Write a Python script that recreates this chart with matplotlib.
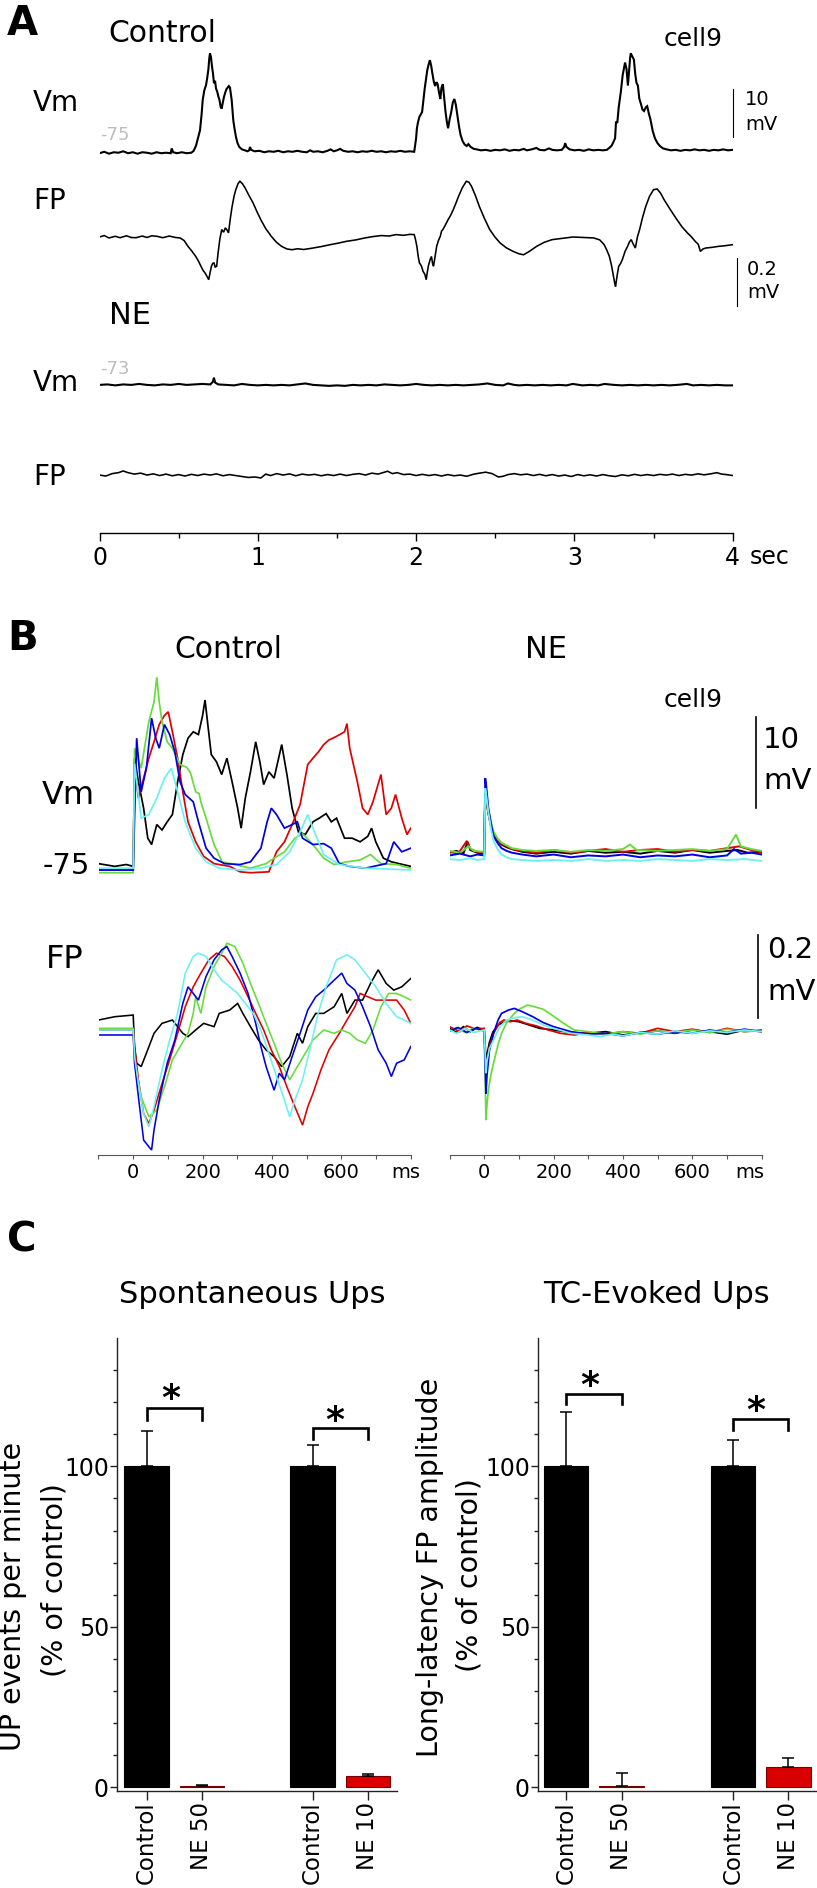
import numpy as np
import matplotlib
matplotlib.use("Agg")
import matplotlib.pyplot as plt
from matplotlib.ticker import FixedLocator, MultipleLocator

# ---- panel A: 4 s sweeps (t in s, Vm in mV, FP in mV) ----
a_ctrl_vm = [(0.00, -75.1), (0.03, -74.8), (0.06, -75.2), (0.09, -74.9), (0.12, -75.0), (0.15, -74.7),
             (0.18, -75.1), (0.21, -74.9), (0.24, -75.2), (0.27, -74.9), (0.30, -75.0), (0.33, -75.2),
             (0.36, -74.9), (0.39, -75.1), (0.42, -75.0), (0.45, -75.1), (0.456, -74.1), (0.465, -74.9),
             (0.49, -75.1), (0.52, -74.9), (0.55, -75.1), (0.58, -75.0), (0.595, -74.6), (0.61, -73.5),
             (0.622, -72.0), (0.635, -70.3), (0.645, -67.0), (0.652, -64.0), (0.662, -62.0), (0.673, -60.9),
             (0.680, -59.5), (0.688, -57.6), (0.693, -55.5), (0.698, -54.3), (0.704, -55.0), (0.711, -57.1),
             (0.717, -58.5), (0.723, -60.5), (0.730, -60.0), (0.736, -61.6), (0.744, -62.3), (0.751, -63.3),
             (0.758, -64.0), (0.765, -65.4), (0.772, -65.8), (0.778, -64.7), (0.786, -63.4), (0.793, -62.6),
             (0.801, -61.8), (0.810, -61.4), (0.817, -61.1), (0.824, -61.4), (0.830, -62.8), (0.835, -64.0),
             (0.840, -66.0), (0.845, -68.2), (0.853, -70.0), (0.862, -71.7), (0.872, -73.0), (0.883, -73.8),
             (0.900, -74.3), (0.919, -74.5), (0.935, -74.7), (0.945, -74.5), (0.951, -73.8), (0.958, -74.4),
             (0.98, -74.7), (1.01, -74.6), (1.04, -74.9), (1.07, -74.7), (1.10, -74.8), (1.13, -74.6),
             (1.16, -74.9), (1.19, -74.7), (1.22, -74.8), (1.25, -74.6), (1.28, -74.8), (1.31, -74.9),
             (1.33, -74.5), (1.35, -74.8), (1.38, -74.7), (1.41, -74.9), (1.44, -74.6), (1.46, -74.3),
             (1.48, -74.7), (1.50, -74.5), (1.52, -74.2), (1.54, -74.6), (1.57, -74.8), (1.60, -74.7),
             (1.63, -74.9), (1.66, -74.7), (1.69, -74.8), (1.72, -74.6), (1.75, -74.8), (1.78, -74.7),
             (1.81, -74.9), (1.84, -74.7), (1.87, -74.8), (1.90, -74.6), (1.93, -74.8), (1.96, -74.7),
             (1.988, -74.8), (2.000, -72.0), (2.005, -69.9), (2.013, -68.5), (2.021, -67.5), (2.030, -67.0),
             (2.038, -66.5), (2.046, -64.0), (2.054, -61.7), (2.063, -59.5), (2.071, -57.7), (2.080, -56.5),
             (2.087, -55.7), (2.095, -56.8), (2.104, -58.7), (2.112, -60.2), (2.120, -61.1), (2.128, -60.3),
             (2.136, -60.7), (2.145, -62.5), (2.153, -63.8), (2.160, -61.5), (2.169, -60.7), (2.177, -63.5),
             (2.186, -66.5), (2.194, -68.5), (2.202, -69.9), (2.212, -68.0), (2.222, -66.5), (2.232, -64.5),
             (2.242, -63.8), (2.251, -65.0), (2.261, -67.2), (2.271, -69.5), (2.281, -71.3), (2.294, -72.6),
             (2.307, -73.3), (2.320, -73.6), (2.330, -73.2), (2.345, -73.8), (2.365, -74.2), (2.383, -74.3),
             (2.41, -74.5), (2.44, -74.4), (2.47, -74.6), (2.50, -74.4), (2.53, -74.5), (2.56, -74.3),
             (2.59, -74.6), (2.62, -74.4), (2.65, -74.5), (2.68, -74.2), (2.70, -74.5), (2.73, -74.3),
             (2.76, -74.0), (2.78, -74.4), (2.81, -74.5), (2.84, -74.1), (2.86, -74.4), (2.89, -74.5),
             (2.92, -74.4), (2.935, -73.8), (2.942, -73.0), (2.950, -73.8), (2.97, -74.3), (3.00, -74.5),
             (3.03, -74.4), (3.06, -74.6), (3.09, -74.3), (3.12, -74.5), (3.15, -74.4), (3.18, -74.5),
             (3.205, -74.4), (3.220, -74.0), (3.236, -73.5), (3.246, -72.8), (3.257, -72.0), (3.263, -68.5),
             (3.271, -68.8), (3.280, -65.5), (3.293, -62.4), (3.305, -58.8), (3.320, -56.2), (3.329, -57.5),
             (3.338, -61.0), (3.345, -58.0), (3.352, -55.2), (3.356, -54.3), (3.364, -54.8), (3.376, -55.6),
             (3.384, -58.5), (3.392, -60.4), (3.401, -61.0), (3.410, -63.7), (3.420, -64.8), (3.430, -66.0),
             (3.440, -66.3), (3.452, -65.5), (3.460, -65.3), (3.470, -66.8), (3.480, -68.0), (3.495, -70.5),
             (3.509, -72.0), (3.525, -73.0), (3.540, -73.6), (3.560, -74.1), (3.583, -74.3), (3.61, -74.5),
             (3.64, -74.4), (3.67, -74.6), (3.70, -74.4), (3.73, -74.5), (3.76, -74.3), (3.79, -74.5),
             (3.82, -74.4), (3.85, -74.6), (3.88, -74.4), (3.91, -74.5), (3.94, -74.3), (3.97, -74.5),
             (4.00, -74.4)]

a_ctrl_fp = [(0.000, 0.000), (0.030, 0.006), (0.060, -0.004), (0.099, 0.003), (0.130, -0.003), (0.170, 0.005),
             (0.200, -0.002), (0.230, -0.003), (0.270, 0.004), (0.300, -0.002), (0.330, 0.005), (0.362, 0.003),
             (0.400, -0.003), (0.440, 0.004), (0.480, -0.002), (0.509, -0.004), (0.535, -0.015), (0.559, -0.039),
             (0.585, -0.060), (0.608, -0.081), (0.625, -0.100), (0.641, -0.122), (0.655, -0.140), (0.667, -0.150),
             (0.680, -0.165), (0.690, -0.178), (0.698, -0.150), (0.707, -0.122), (0.715, -0.110), (0.723, -0.108),
             (0.731, -0.125), (0.740, -0.122), (0.749, -0.067), (0.760, -0.010), (0.772, 0.031), (0.784, 0.020),
             (0.795, 0.038), (0.805, 0.030), (0.815, 0.017), (0.827, 0.080), (0.838, 0.128), (0.850, 0.170),
             (0.861, 0.197), (0.875, 0.222), (0.887, 0.232), (0.903, 0.222), (0.920, 0.204), (0.945, 0.172),
             (0.970, 0.142), (0.995, 0.105), (1.019, 0.072), (1.050, 0.035), (1.085, 0.003), (1.115, -0.020),
             (1.150, -0.039), (1.185, -0.050), (1.216, -0.053), (1.250, -0.049), (1.290, -0.052), (1.348, -0.046),
             (1.400, -0.040), (1.450, -0.033), (1.512, -0.025), (1.560, -0.018), (1.620, -0.012), (1.676, -0.004),
             (1.730, 0.002), (1.780, 0.006), (1.830, 0.004), (1.873, 0.010), (1.920, 0.007), (1.960, 0.011),
             (1.988, 0.010), (1.996, -0.010), (2.005, -0.039), (2.013, -0.080), (2.021, -0.108), (2.033, -0.120),
             (2.044, -0.143), (2.055, -0.155), (2.064, -0.178), (2.070, -0.150), (2.077, -0.122), (2.088, -0.095),
             (2.097, -0.081), (2.104, -0.110), (2.110, -0.122), (2.120, -0.080), (2.130, -0.039), (2.141, -0.015),
             (2.153, 0.003), (2.161, 0.025), (2.169, 0.031), (2.185, 0.050), (2.202, 0.072), (2.218, 0.090),
             (2.235, 0.114), (2.251, 0.140), (2.268, 0.169), (2.292, 0.205), (2.317, 0.232), (2.334, 0.228),
             (2.350, 0.211), (2.375, 0.172), (2.399, 0.128), (2.430, 0.080), (2.465, 0.031), (2.498, 0.000),
             (2.531, -0.025), (2.570, -0.045), (2.613, -0.060), (2.650, -0.070), (2.679, -0.074), (2.720, -0.058),
             (2.761, -0.039), (2.810, -0.022), (2.859, -0.011), (2.920, -0.006), (2.991, 0.000), (3.050, -0.002),
             (3.122, -0.004), (3.160, -0.012), (3.188, -0.032), (3.205, -0.055), (3.221, -0.081), (3.235, -0.120),
             (3.247, -0.164), (3.254, -0.190), (3.260, -0.206), (3.270, -0.160), (3.280, -0.122), (3.292, -0.110),
             (3.303, -0.094), (3.320, -0.060), (3.336, -0.039), (3.348, -0.020), (3.359, -0.011), (3.372, -0.030),
             (3.385, -0.046), (3.398, 0.000), (3.412, 0.031), (3.430, 0.080), (3.451, 0.128), (3.475, 0.170),
             (3.500, 0.197), (3.523, 0.200), (3.545, 0.182), (3.566, 0.156), (3.605, 0.115), (3.648, 0.072),
             (3.680, 0.042), (3.714, 0.017), (3.740, 0.000), (3.763, -0.018), (3.782, -0.030), (3.796, -0.060),
             (3.812, -0.050), (3.829, -0.046), (3.870, -0.043), (3.911, -0.039), (3.955, -0.036), (4.000, -0.032)]

a_ne_vm = [(0.00, -73.0), (0.05, -72.9), (0.10, -73.1), (0.15, -72.9), (0.20, -73.0), (0.25, -72.8), (0.30, -73.0),
           (0.35, -73.1), (0.40, -72.9), (0.45, -73.0), (0.50, -72.8), (0.55, -73.0), (0.60, -72.9), (0.65, -72.8),
           (0.70, -72.9), (0.715, -72.4), (0.723, -71.5), (0.73, -72.5), (0.75, -72.9), (0.80, -73.0), (0.85, -73.1),
           (0.90, -72.8), (0.95, -73.0), (1.00, -73.1), (1.05, -73.0), (1.10, -73.1), (1.15, -73.0), (1.20, -73.1),
           (1.25, -72.9), (1.30, -72.7), (1.35, -73.0), (1.40, -73.1), (1.45, -73.2), (1.50, -73.1), (1.55, -73.2),
           (1.60, -73.0), (1.65, -73.1), (1.70, -73.0), (1.75, -73.1), (1.80, -72.9), (1.85, -73.0), (1.90, -73.1),
           (1.95, -73.0), (2.00, -72.8), (2.05, -73.0), (2.10, -73.1), (2.15, -73.0), (2.20, -73.1), (2.25, -73.0),
           (2.30, -73.1), (2.35, -73.0), (2.40, -72.9), (2.45, -72.7), (2.50, -73.0), (2.55, -73.1), (2.58, -72.7),
           (2.62, -73.0), (2.65, -73.1), (2.70, -73.0), (2.75, -73.1), (2.80, -73.0), (2.85, -73.1), (2.90, -73.0),
           (2.95, -73.1), (2.99, -72.8), (3.05, -73.1), (3.10, -73.0), (3.15, -73.1), (3.19, -72.8), (3.25, -73.0),
           (3.30, -73.1), (3.35, -73.0), (3.40, -73.1), (3.45, -73.0), (3.50, -73.1), (3.55, -73.0), (3.60, -73.1),
           (3.65, -73.0), (3.71, -72.8), (3.75, -73.1), (3.80, -73.0), (3.85, -73.1), (3.90, -73.0), (3.95, -73.1),
           (4.00, -73.1)]

a_ne_fp = [(0.00, 0.000), (0.04, -0.004), (0.08, 0.006), (0.12, 0.010), (0.15, 0.017), (0.18, 0.010), (0.22, 0.004),
           (0.26, 0.008), (0.30, 0.000), (0.34, 0.005), (0.38, -0.002), (0.42, 0.004), (0.46, -0.003), (0.50, 0.002),
           (0.54, -0.004), (0.58, 0.003), (0.62, -0.002), (0.66, 0.004), (0.70, 0.000), (0.74, 0.005), (0.78, -0.003),
           (0.82, 0.002), (0.86, -0.002), (0.90, -0.006), (0.94, -0.010), (0.98, -0.008), (1.02, -0.012), (1.05, 0.004),
           (1.08, -0.002), (1.12, 0.006), (1.16, 0.000), (1.20, 0.005), (1.24, -0.003), (1.28, 0.004), (1.32, 0.000),
           (1.36, 0.003), (1.40, -0.003), (1.44, 0.002), (1.48, -0.002), (1.52, 0.004), (1.56, -0.002), (1.60, 0.003),
           (1.64, 0.006), (1.68, 0.000), (1.72, 0.008), (1.76, 0.004), (1.80, 0.012), (1.82, 0.016), (1.85, 0.006),
           (1.88, 0.010), (1.92, 0.002), (1.96, 0.004), (2.00, -0.002), (2.04, 0.003), (2.08, -0.002), (2.12, 0.002),
           (2.16, -0.004), (2.20, 0.002), (2.24, -0.003), (2.28, 0.000), (2.32, -0.005), (2.36, 0.003), (2.40, 0.008),
           (2.44, 0.012), (2.48, 0.006), (2.52, -0.008), (2.55, -0.005), (2.58, 0.002), (2.62, 0.006), (2.66, 0.001),
           (2.70, 0.004), (2.74, -0.002), (2.78, 0.003), (2.82, -0.003), (2.86, 0.002), (2.90, -0.004), (2.94, 0.000),
           (2.98, -0.006), (3.02, 0.002), (3.06, -0.003), (3.10, 0.001), (3.14, -0.004), (3.18, 0.002), (3.22, -0.003),
           (3.26, -0.006), (3.30, 0.001), (3.34, -0.003), (3.38, 0.003), (3.42, -0.002), (3.46, 0.002), (3.50, -0.002),
           (3.54, 0.003), (3.58, 0.000), (3.62, 0.004), (3.66, -0.002), (3.70, 0.003), (3.74, 0.000), (3.78, 0.005),
           (3.82, 0.001), (3.86, 0.005), (3.90, 0.010), (3.93, 0.004), (3.96, 0.002), (4.00, -0.002)]

# ---- panel B: overlaid sweeps (t in ms) ----
trace_colors = ['#000000', '#e00000', '#66dc3c', '#0000e0', '#6cf0f0']

b_ctrl_vm = [
    [(-100, -74.5), (-53, -74.8), (-20, -74.6), (0, -74.8), (4, -62.9), (15, -65.5), (30, -68.4), (42, -71.7),
     (53, -72.4), (68, -70.2), (83, -70.8), (98, -69.9), (113, -69.1), (128, -65.5), (143, -62.5), (158, -60.7),
     (173, -60.0), (188, -60.3), (200, -58.2), (207, -56.5), (215, -59.2), (225, -62.5), (240, -63.3), (255, -64.7),
     (270, -62.9), (285, -65.5), (301, -68.4), (311, -70.6), (323, -67.3), (338, -64.4), (353, -61.1), (365, -63.3),
     (376, -65.8), (391, -64.4), (406, -65.1), (428, -61.4), (443, -64.7), (458, -68.4), (476, -71.0), (496, -71.3),
     (518, -69.9), (536, -69.5), (556, -69.0), (571, -69.9), (586, -69.5), (609, -71.7), (631, -71.7), (654, -72.1),
     (676, -71.5), (687, -70.6), (699, -72.1), (721, -73.9), (744, -74.3), (766, -74.5), (800, -74.8)],
    [(-100, -75.2), (0, -75.2), (4, -63.3), (15, -67.3), (30, -65.1), (45, -62.9), (60, -61.1), (75, -59.2),
     (90, -58.2), (101, -57.8), (113, -60.0), (128, -62.9), (143, -66.6), (158, -69.9), (180, -72.1), (203, -73.7),
     (233, -74.5), (278, -74.8), (308, -75.4), (338, -75.5), (391, -75.4), (413, -73.2), (436, -72.1), (458, -70.2),
     (481, -68.0), (503, -63.6), (518, -62.9), (534, -62.2), (549, -61.4), (564, -60.9), (586, -60.5), (609, -60.0),
     (616, -59.1), (624, -61.8), (646, -65.5), (661, -68.4), (676, -69.1), (691, -67.7), (714, -64.7), (729, -69.1),
     (744, -68.4), (756, -66.9), (774, -69.5), (789, -71.3), (800, -70.6)],
    [(-100, -75.5), (0, -75.5), (4, -61.8), (23, -64.0), (45, -58.9), (60, -56.7), (68, -54.0), (75, -56.7),
     (83, -58.9), (98, -61.1), (113, -61.8), (135, -63.6), (154, -63.9), (165, -64.5), (180, -66.6), (190, -66.8),
     (195, -67.7), (210, -69.5), (233, -72.4), (256, -74.3), (293, -74.6), (338, -75.0), (383, -74.5), (406, -73.9),
     (436, -73.2), (466, -71.7), (488, -71.2), (518, -72.4), (549, -73.9), (579, -74.6), (616, -74.3), (654, -74.1),
     (684, -73.5), (714, -74.5), (759, -74.6), (800, -75.0)],
    [(-100, -75.2), (0, -75.2), (10, -60.7), (23, -66.6), (38, -64.0), (53, -58.5), (65, -60.7), (75, -61.8),
     (90, -59.2), (105, -60.3), (120, -62.2), (135, -65.5), (150, -66.9), (173, -67.7), (188, -69.9), (210, -72.8),
     (233, -73.9), (263, -74.5), (308, -74.6), (338, -74.3), (368, -72.8), (386, -69.9), (398, -68.4), (413, -69.1),
     (436, -70.6), (458, -70.2), (473, -69.9), (488, -71.7), (518, -72.4), (549, -72.3), (571, -72.8), (594, -74.5),
     (624, -74.8), (669, -75.0), (729, -74.5), (751, -72.1), (774, -73.2), (800, -72.8)],
    [(-100, -75.0), (0, -75.0), (4, -63.5), (23, -69.5), (45, -69.1), (68, -67.3), (90, -65.1), (110, -64.0),
     (128, -66.6), (150, -69.9), (180, -72.8), (210, -74.3), (248, -75.0), (308, -75.2), (368, -75.0), (413, -74.6),
     (451, -73.2), (481, -71.0), (503, -69.1), (518, -70.6), (549, -73.5), (594, -74.6), (669, -75.0), (800, -75.2)],
]

b_ne_vm = [
    [(-100, -73.3), (-80, -73.1), (-60, -73.4), (-48, -72.1), (-40, -73.0), (-20, -73.3), (0, -73.4), (3, -66.8),
     (6, -67.5), (12, -69.0), (20, -70.5), (27, -71.3), (40, -72.0), (50, -72.4), (65, -72.7), (80, -72.9),
     (110, -73.2), (150, -73.4), (200, -73.2), (250, -73.4), (300, -73.1), (350, -73.3), (400, -73.2), (450, -73.4),
     (500, -73.1), (550, -73.3), (600, -73.0), (650, -73.3), (700, -73.1), (730, -73.0), (760, -73.3), (800, -73.2)],
    [(-100, -73.2), (-75, -73.4), (-50, -72.0), (-40, -72.9), (-20, -73.2), (0, -73.3), (3, -66.6), (6, -67.3),
     (12, -68.9), (20, -70.4), (27, -71.2), (40, -72.0), (50, -72.3), (65, -72.6), (80, -72.9), (110, -73.1),
     (150, -73.3), (200, -73.0), (250, -73.3), (300, -73.1), (350, -72.9), (400, -73.2), (450, -73.0), (500, -72.9),
     (550, -73.2), (600, -73.0), (650, -73.1), (700, -72.8), (735, -72.6), (770, -73.0), (800, -73.3)],
    [(-100, -73.1), (-70, -73.3), (-45, -72.6), (-30, -73.1), (0, -73.2), (3, -66.6), (6, -67.2), (12, -68.6),
     (20, -70.0), (27, -71.0), (40, -71.8), (50, -72.2), (65, -72.5), (80, -72.8), (110, -73.0), (150, -73.1),
     (200, -73.0), (250, -73.2), (300, -73.0), (350, -73.1), (400, -72.9), (420, -72.4), (440, -73.0), (500, -73.1),
     (550, -73.0), (600, -72.9), (650, -73.1), (700, -72.9), (726, -71.3), (740, -72.6), (770, -72.9), (800, -73.1)],
    [(-100, -73.6), (-70, -73.4), (-40, -73.7), (-20, -73.5), (0, -73.6), (3, -65.1), (6, -66.0), (12, -68.4),
     (20, -70.2), (27, -71.5), (40, -72.3), (50, -72.8), (65, -73.1), (80, -73.3), (110, -73.5), (150, -73.7),
     (200, -73.5), (250, -73.8), (300, -73.6), (350, -73.7), (400, -73.5), (450, -73.8), (500, -73.6), (550, -73.7),
     (600, -73.5), (650, -73.8), (700, -73.6), (720, -72.9), (740, -73.4), (770, -73.3), (800, -73.5)],
    [(-100, -74.0), (-70, -74.1), (-40, -73.9), (-20, -74.1), (0, -74.0), (3, -66.2), (6, -67.0), (12, -68.8),
     (20, -70.8), (27, -72.0), (40, -73.0), (50, -73.5), (65, -73.8), (80, -74.0), (110, -74.1), (150, -74.2),
     (200, -74.1), (250, -74.2), (300, -74.0), (350, -74.2), (400, -74.1), (450, -74.2), (500, -74.0), (550, -74.1),
     (600, -74.2), (650, -74.0), (700, -74.1), (750, -74.0), (800, -74.2)],
]

b_ctrl_fp = [
    [(-100, 0.024), (-53, 0.032), (0, 0.036), (4, -0.040), (10, -0.080), (23, -0.088), (38, -0.056), (60, -0.008),
     (83, 0.016), (113, 0.024), (143, -0.008), (158, -0.016), (180, 0.000), (203, 0.016), (233, 0.008), (248, 0.040),
     (278, 0.048), (301, 0.064), (316, 0.040), (338, 0.008), (361, -0.024), (383, -0.048), (406, -0.064),
     (428, -0.088), (451, -0.064), (473, -0.008), (488, -0.032), (503, 0.008), (526, 0.040), (549, 0.040),
     (579, 0.056), (601, 0.088), (616, 0.040), (639, 0.072), (661, 0.072), (684, 0.112), (706, 0.145), (729, 0.112),
     (751, 0.096), (774, 0.104), (800, 0.124)],
    [(-100, 0.000), (0, 0.000), (4, -0.040), (15, -0.120), (30, -0.201), (45, -0.225), (60, -0.193), (83, -0.129),
     (105, -0.072), (128, -0.008), (150, 0.056), (173, 0.104), (195, 0.137), (218, 0.169), (240, 0.185), (263, 0.177),
     (285, 0.153), (308, 0.120), (331, 0.080), (353, 0.040), (376, 0.000), (398, -0.048), (421, -0.088),
     (443, -0.137), (466, -0.185), (488, -0.229), (503, -0.185), (518, -0.153), (541, -0.096), (564, -0.048),
     (594, -0.008), (616, 0.024), (639, 0.056), (654, 0.088), (676, 0.080), (699, 0.072), (729, 0.072), (759, 0.072),
     (781, 0.048), (800, 0.016)],
    [(-100, 0.004), (0, 0.004), (4, -0.080), (23, -0.161), (45, -0.209), (68, -0.193), (90, -0.137), (113, -0.072),
     (135, -0.040), (158, -0.008), (173, 0.040), (180, 0.080), (195, 0.040), (210, 0.104), (233, 0.153), (255, 0.185),
     (270, 0.209), (293, 0.201), (316, 0.161), (338, 0.112), (361, 0.064), (383, 0.016), (406, -0.032),
     (428, -0.080), (451, -0.120), (473, -0.088), (496, -0.056), (518, -0.024), (549, 0.000), (579, -0.008),
     (601, 0.000), (624, -0.008), (646, -0.024), (669, -0.032), (691, 0.000), (714, 0.056), (736, 0.088), (759, 0.088),
     (781, 0.080), (800, 0.072)],
    [(-100, -0.012), (0, -0.012), (4, -0.080), (15, -0.161), (30, -0.265), (45, -0.281), (53, -0.289), (60, -0.241),
     (75, -0.169), (98, -0.080), (120, -0.024), (143, 0.064), (158, 0.104), (173, 0.088), (188, 0.072), (210, 0.129),
     (233, 0.169), (255, 0.193), (270, 0.201), (285, 0.177), (308, 0.137), (331, 0.088), (353, 0.016), (368, -0.040),
     (383, -0.088), (406, -0.145), (421, -0.104), (436, -0.120), (458, -0.064), (481, -0.008), (503, 0.048),
     (526, 0.080), (549, 0.096), (579, 0.120), (601, 0.137), (616, 0.112), (639, 0.096), (661, 0.056), (684, 0.008),
     (706, -0.048), (729, -0.080), (744, -0.112), (759, -0.080), (781, -0.072), (800, -0.040)],
    [(-100, 0.000), (0, 0.000), (4, -0.064), (15, -0.129), (30, -0.201), (45, -0.233), (60, -0.185), (83, -0.096),
     (105, -0.024), (128, 0.040), (150, 0.137), (173, 0.177), (188, 0.185), (210, 0.177), (233, 0.145), (255, 0.120),
     (278, 0.104), (301, 0.088), (323, 0.064), (346, 0.040), (368, 0.000), (391, -0.056), (413, -0.112),
     (436, -0.169), (451, -0.209), (466, -0.169), (488, -0.120), (511, -0.040), (533, 0.040), (556, 0.104),
     (586, 0.169), (616, 0.181), (639, 0.169), (669, 0.137), (699, 0.104), (729, 0.064), (759, 0.032), (781, 0.024),
     (800, 0.016)],
]

b_ne_fp = [
    [(-100, 0.004), (-80, -0.006), (-60, 0.008), (-40, -0.004), (-20, 0.006), (0, 0.000), (3, -0.040), (5, -0.080),
     (8, -0.060), (15, -0.030), (25, -0.005), (40, 0.012), (60, 0.020), (80, 0.022), (100, 0.020), (130, 0.012),
     (160, 0.004), (200, 0.000), (250, -0.006), (300, -0.008), (350, -0.004), (400, -0.012), (450, -0.006),
     (500, -0.002), (550, -0.008), (600, 0.000), (650, -0.004), (700, -0.010), (750, 0.000), (800, -0.004)],
    [(-100, 0.008), (-70, -0.004), (-50, 0.010), (-25, 0.002), (0, 0.004), (3, -0.060), (5, -0.112), (8, -0.080),
     (15, -0.040), (27, -0.008), (45, 0.018), (57, 0.024), (75, 0.020), (95, 0.024), (120, 0.016), (150, 0.010),
     (185, 0.000), (220, -0.008), (260, -0.012), (300, -0.006), (350, -0.010), (400, -0.004), (450, -0.008),
     (500, 0.004), (550, -0.004), (600, 0.002), (650, -0.006), (700, 0.004), (750, -0.004), (800, 0.000)],
    [(-100, -0.004), (-80, 0.006), (-55, -0.006), (-30, 0.004), (0, -0.002), (3, -0.120), (5, -0.217), (8, -0.180),
     (12, -0.145), (20, -0.105), (27, -0.080), (40, -0.035), (50, -0.008), (65, 0.018), (87, 0.040), (105, 0.052),
     (125, 0.060), (145, 0.056), (170, 0.050), (195, 0.036), (215, 0.024), (240, 0.010), (260, 0.000),
     (300, -0.004), (350, -0.010), (400, -0.004), (450, -0.010), (500, -0.002), (550, -0.006), (600, 0.000),
     (650, -0.006), (700, 0.002), (750, -0.004), (800, -0.002)],
    [(-100, -0.002), (-75, 0.006), (-50, -0.006), (-25, 0.004), (0, -0.002), (3, -0.090), (5, -0.153), (8, -0.110),
     (15, -0.050), (27, -0.008), (40, 0.024), (50, 0.040), (70, 0.048), (87, 0.052), (110, 0.044), (140, 0.032),
     (170, 0.018), (200, 0.008), (250, -0.004), (300, -0.010), (350, -0.008), (400, -0.014), (450, -0.006),
     (500, -0.010), (550, -0.004), (600, -0.008), (650, 0.000), (700, -0.006), (750, 0.002), (800, -0.004)],
    [(-100, 0.000), (-80, -0.008), (-55, 0.004), (-30, -0.006), (0, 0.000), (3, -0.060), (5, -0.104), (8, -0.075),
     (15, -0.045), (27, -0.024), (45, 0.008), (65, 0.024), (90, 0.030), (110, 0.032), (140, 0.024), (170, 0.012),
     (200, 0.004), (250, -0.008), (300, -0.012), (335, -0.016), (370, -0.010), (400, -0.014), (450, -0.006),
     (500, -0.010), (550, -0.002), (600, -0.008), (650, -0.002), (700, -0.006), (750, 0.000), (800, -0.004)],
]

# ---- panel C: bar charts (% of control) ----
c_groups = ['Control', 'NE 50', 'Control', 'NE 10']
c_xpos = [1, 2, 4, 5]
c_colors = ['black', '#d80000', 'black', '#d80000']
spont_mean = [100, 0.5, 100, 3.5]
spont_err = [11.1, 0.3, 6.6, 0.5]
evoked_mean = [100, 0.4, 100, 6.2]
evoked_err = [17.0, 3.9, 8.3, 2.8]
# bracket: (x_left, x_right, top, left end, right end); star: (x, y)
spont_brackets = [(1, 2, 118.1, 114.6, 114.6), (4, 5, 112.0, 108.5, 108.5)]
spont_stars = [(1.44, 124.3), (4.40, 117.5)]
evoked_brackets = [(1, 2, 122.6, 119.3, 119.3), (4, 5, 114.8, 111.3, 111.3)]
evoked_stars = [(1.43, 128.3), (4.41, 120.7)]

W, H = 817, 1888
plt.rcParams['font.family'] = ['DejaVu Sans']
fig = plt.figure(figsize=(W / 100, H / 100), dpi=100)


def box(x0, y0, x1, y1):
    # pixel box (top-left origin) -> figure fraction
    return [x0 / W, 1 - y1 / H, (x1 - x0) / W, (y1 - y0) / H]


def label(x, y, s, size, **kw):
    kw.setdefault('ha', 'left')
    kw.setdefault('va', 'center')
    fig.text(x / W, 1 - y / H, s, fontsize=size, **kw)


def bare(ax):
    for sp in ax.spines.values():
        sp.set_visible(False)
    ax.set_xticks([])
    ax.set_yticks([])
    ax.patch.set_visible(False)


def trace(ax, pts, color='k', lw=1.0):
    t, v = np.array(pts).T
    ax.plot(t, v, color=color, lw=lw, solid_joinstyle='miter')


# ================= A =================
axA1 = fig.add_axes(box(99.5, 40, 732.7, 170))
axA2 = fig.add_axes(box(99.5, 170, 732.7, 310))
axA3 = fig.add_axes(box(99.5, 335, 732.7, 430))
axA4 = fig.add_axes(box(99.5, 440, 732.7, 532.7))
for ax in (axA1, axA2, axA3, axA4):
    bare(ax)
    ax.set_xlim(0, 4)
axA1.set_ylim(-78.6, -51.5)
axA2.set_ylim(-0.304, 0.279)
axA3.set_ylim(-82.4, -62.6)
axA4.set_ylim(-0.240, 0.146)

trace(axA1, a_ctrl_vm, lw=1.5)
trace(axA2, a_ctrl_fp, lw=1.15)
trace(axA3, a_ne_vm, lw=1.5)
trace(axA4, a_ne_fp, lw=1.15)

# scale bars
axA1.plot([4.0, 4.0], [-71.7, -61.7], color='k', lw=0.8, clip_on=False)
axA2.plot([4.027, 4.027], [-0.2875, -0.0875], color='k', lw=0.8, clip_on=False)

# time axis
axA4.spines['bottom'].set_visible(True)
axA4.spines['bottom'].set_linewidth(1.0)
axA4.set_xticks([0, 1, 2, 3, 4])
axA4.set_xticklabels(['0', '1', '2', '3', '4'])
axA4.xaxis.set_minor_locator(MultipleLocator(0.5))
axA4.tick_params(axis='x', which='major', direction='out', length=5.5, width=1.0, labelsize=17, pad=4)
axA4.tick_params(axis='x', which='minor', direction='out', length=3.5, width=1.0)

label(7, 24, 'A', 29, weight='bold')
label(162, 34, 'Control', 21.5, ha='center')
label(693, 39, 'cell9', 18, ha='center')
label(56, 103, 'Vm', 20, ha='center')
label(100, 135, '-75', 13, color='#bdbdbd')
label(50, 201, 'FP', 20, ha='center')
label(130.5, 316, 'NE', 22, ha='center')
label(100, 368.5, '-73', 13, color='#bdbdbd')
label(56, 383, 'Vm', 20, ha='center')
label(50, 477, 'FP', 20, ha='center')
label(745, 99.5, '10', 14)
label(745, 124.5, 'mV', 14)
label(747, 269.5, '0.2', 14)
label(747, 292.5, 'mV', 14)
label(750, 557, 'sec', 17)

# ================= B =================
axB1 = fig.add_axes(box(98.5, 660, 410.8, 900))
axB2 = fig.add_axes(box(449.5, 660, 761.7, 900))
axB3 = fig.add_axes(box(98.5, 905, 410.8, 1155))
axB4 = fig.add_axes(box(449.5, 905, 761.7, 1155))
for ax in (axB1, axB2, axB3, axB4):
    bare(ax)
    ax.set_xlim(-100, 800)
for ax in (axB1, axB2):
    ax.set_ylim(-78.5, -52.1)
for ax in (axB3, axB4):
    ax.set_ylim(-0.301, 0.301)

for pts, c in zip(b_ctrl_vm, trace_colors):
    trace(axB1, pts, c, lw=1.25)
for pts, c in zip(b_ne_vm, trace_colors):
    trace(axB2, pts, c, lw=1.4)
for pts, c in zip(b_ctrl_fp, trace_colors):
    trace(axB3, pts, c, lw=1.15)
for pts, c in zip(b_ne_fp, trace_colors):
    trace(axB4, pts, c, lw=1.25)

axB2.plot([783.5, 783.5], [-68.4, -58.4], color='k', lw=1.2, clip_on=False)
axB4.plot([789.3, 789.3], [0.029, 0.229], color='k', lw=1.2, clip_on=False)

for ax in (axB3, axB4):
    ax.spines['bottom'].set_visible(True)
    ax.spines['bottom'].set_color('#555555')
    ax.set_xticks([0, 200, 400, 600])
    ax.set_xticklabels(['0', '200', '400', '600'])
    ax.xaxis.set_minor_locator(FixedLocator([-100, 100, 300, 500, 700, 800]))
    ax.tick_params(axis='x', which='both', direction='out', length=3, width=0.8,
                   color='#555555', labelsize=14, pad=3)

label(7, 639, 'B', 29, weight='bold')
label(228, 650, 'Control', 21.5, ha='center')
label(546, 650, 'NE', 22, ha='center')
label(693, 700, 'cell9', 18, ha='center')
label(68, 796, 'Vm', 23, ha='center')
label(66.5, 866, '-75', 21, ha='center')
label(65, 960, 'FP', 23, ha='center')
label(763, 740, '10', 21)
label(763, 781, 'mV', 21)
label(767, 950, '0.2', 21)
label(767, 992.5, 'mV', 21)
label(405.8, 1173, 'ms', 14, ha='center')
label(750, 1173, 'ms', 14, ha='center')

# ================= C =================
axC1 = fig.add_axes(box(117.3, 1338, 396.7, 1790.7))
axC2 = fig.add_axes(box(538.3, 1338, 816.7, 1790.7))


def bar_panel(ax, means, errs, brackets, stars, xlim):
    ax.bar(c_xpos, means, width=0.8, color=c_colors,
           edgecolor=['black', '#7a0000', 'black', '#7a0000'], linewidth=0.8,
           yerr=[np.zeros(len(errs)), errs],
           error_kw=dict(ecolor='black', elinewidth=1.1, capsize=4.5, capthick=1.1))
    for x1, x2, top, e1, e2 in brackets:
        ax.plot([x1, x1, x2, x2], [e1, top, top, e2], color='k', lw=1.9, solid_joinstyle='miter')
    for x, y in stars:
        ax.annotate('*', xy=(x, y), xytext=(0, -15), textcoords='offset points',
                    ha='center', va='baseline', fontsize=26, fontweight='bold')
    ax.set_xlim(*xlim)
    ax.set_ylim(-1.06, 140)
    for s in ('top', 'right'):
        ax.spines[s].set_visible(False)
    for s in ('left', 'bottom'):
        ax.spines[s].set_linewidth(1.0)
        ax.spines[s].set_color('#222222')
    ax.set_yticks([0, 50, 100])
    ax.yaxis.set_minor_locator(FixedLocator([10, 20, 30, 40, 60, 70, 80, 90, 110, 120, 130]))
    ax.tick_params(axis='y', which='major', length=5, width=1.0, labelsize=17, pad=1, color='#222222')
    ax.tick_params(axis='y', which='minor', length=3, width=1.0, color='#222222')
    ax.set_xticks(c_xpos)
    ax.set_xticklabels(c_groups, rotation=90, fontsize=16.5)
    ax.tick_params(axis='x', length=6.5, width=1.0, pad=1.5, color='#222222')
    ax.patch.set_visible(False)


bar_panel(axC1, spont_mean, spont_err, spont_brackets, spont_stars, (0.47, 5.52))
bar_panel(axC2, evoked_mean, evoked_err, evoked_brackets, evoked_stars, (0.5, 5.51))

label(7, 1240, 'C', 29, weight='bold')
label(252, 1303, 'Spontaneous Ups', 22, ha='center', va='baseline')
label(656.7, 1303, 'TC-Evoked Ups', 22, ha='center', va='baseline')
label(13.5, 1596, 'UP events per minute', 20.5, ha='center', rotation=90)
label(55, 1580, '(% of control)', 20.5, ha='center', rotation=90)
label(430, 1567, 'Long-latency FP amplitude', 20.5, ha='center', rotation=90)
label(470, 1575, '(% of control)', 20.5, ha='center', rotation=90)

fig.savefig('out.png', dpi=100)
